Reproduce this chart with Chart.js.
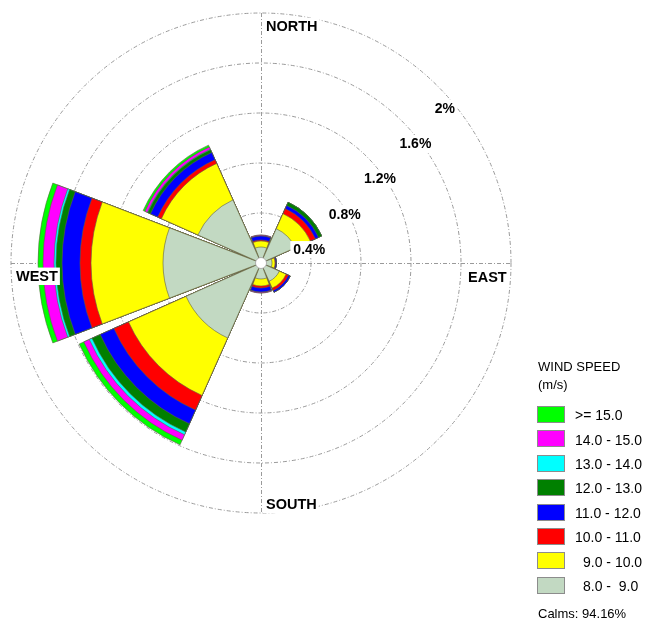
<!DOCTYPE html>
<html>
<head>
<meta charset="utf-8">
<script src="https://cdn.jsdelivr.net/npm/chart.js@4.4.1/dist/chart.umd.min.js"></script>
<style>
  html, body { margin: 0; padding: 0; background: #fff; }
  #wrap { position: relative; width: 646px; height: 621px; overflow: hidden; }
  #c { position: absolute; left: 0; top: 0; }
  .lg { position: absolute; font-family: "Liberation Sans", Arial, sans-serif; color: #000; white-space: pre; }
  .box { position: absolute; width: 28px; height: 17px; box-sizing: border-box; border: 1px solid #8c8c8c; }
</style>
</head>
<body>
<div id="wrap">
  <canvas id="c" width="646" height="621"></canvas>
  <div id="legend"></div>
</div>
<script>
// ---- data (percent of time) ----
const directions = ['N', 'NE', 'E', 'SE', 'S', 'SW', 'W', 'NW'];
const speedBins = ['8.0 -  9.0', '9.0 - 10.0', '10.0 - 11.0', '11.0 - 12.0', '12.0 - 13.0', '13.0 - 14.0', '14.0 - 15.0', '>= 15.0'];
const binColors = ['#c2d9c2', '#ffff00', '#ff0000', '#0000ff', '#008000', '#00ffff', '#ff00ff', '#00ff00'];
const v8to9   = [0.128, 0.300, 0.088, 0.160, 0.128, 0.656, 0.784, 0.552];
const v9to10  = [0.048, 0.132, 0.024, 0.060, 0.056, 0.504, 0.576, 0.320];
const v10to11 = [0.008, 0.044, 0.004, 0.020, 0.016, 0.128, 0.088, 0.032];
const v11to12 = [0.032, 0.028, 0.008, 0.016, 0.032, 0.120, 0.144, 0.064];
const v12to13 = [0.000, 0.028, 0.000, 0.000, 0.000, 0.072, 0.048, 0.024];
const v13to14 = [0.000, 0.000, 0.000, 0.000, 0.000, 0.024, 0.016, 0.004];
const v14to15 = [0.008, 0.000, 0.000, 0.000, 0.008, 0.048, 0.088, 0.020];
const v15up   = [0.000, 0.000, 0.000, 0.000, 0.000, 0.040, 0.040, 0.016];
const tickValues = [0.4, 0.8, 1.2, 1.6, 2.0];
const tickLabels = ['0.4%', '0.8%', '1.2%', '1.6%', '2%'];
const compassLabels = ['NORTH', 'EAST', 'SOUTH', 'WEST'];
const legendTitle = ['WIND SPEED', '(m/s)'];
const calmsText = 'Calms: 94.16%';

// ---- build stacked (cumulative) datasets; each direction followed by a gap slot ----
const bins = [v8to9, v9to10, v10to11, v11to12, v12to13, v13to14, v14to15, v15up];
const sectorAngle = 42, gapAngle = 3;
const labels = [];
directions.forEach(d => { labels.push(d); labels.push(''); });
const running = directions.map(() => 0);
const datasets = bins.map((vals, k) => {
  const data = [];
  vals.forEach((v, i) => { running[i] += v; data.push(+running[i].toFixed(4)); data.push(0); });
  return {
    label: speedBins[k],
    data: data,
    backgroundColor: binColors[k],
    borderColor: 'rgba(95,95,70,0.75)',
    borderWidth: ctx => (ctx.dataIndex % 2 ? 0 : 0.8),
    angle: ctx => (ctx.dataIndex % 2 ? gapAngle : sectorAngle)
  };
});

const FONT = '"Liberation Sans", Arial, sans-serif';
function textWithBackdrop(ctx, txt, x, baseline, size) {
  ctx.font = 'bold ' + size + 'px ' + FONT;
  const w = ctx.measureText(txt).width;
  const cap = size * 0.72;
  ctx.fillStyle = '#ffffff';
  ctx.fillRect(x - 3, baseline - cap - 3, w + 5, cap + 7);
  ctx.fillStyle = '#000000';
  ctx.textAlign = 'left';
  ctx.textBaseline = 'alphabetic';
  ctx.fillText(txt, x, baseline);
}

const roseDecor = {
  id: 'roseDecor',
  beforeDatasetsDraw(chart) {
    const s = chart.scales.r, ctx = chart.ctx;
    const cx = s.xCenter, cy = s.yCenter, R = s.drawingArea;
    ctx.save();
    ctx.strokeStyle = '#9a9a9a';
    ctx.lineWidth = 1;
    ctx.setLineDash([4, 2, 1, 2]);
    ctx.beginPath();
    ctx.moveTo(cx + 0.5, cy - R); ctx.lineTo(cx + 0.5, cy + R);
    ctx.moveTo(cx - R, cy + 0.5); ctx.lineTo(cx + R, cy + 0.5);
    ctx.stroke();
    ctx.restore();
  },
  afterDatasetsDraw(chart) {
    const s = chart.scales.r, ctx = chart.ctx;
    const cx = s.xCenter, cy = s.yCenter;
    ctx.save();
    // centre hole
    ctx.beginPath();
    ctx.arc(cx, cy, 5.5, 0, Math.PI * 2);
    ctx.fillStyle = '#ffffff';
    ctx.fill();
    ctx.strokeStyle = '#a0a0a0';
    ctx.lineWidth = 0.8;
    ctx.stroke();
    // ring labels along the NE diagonal
    tickValues.forEach((v, i) => {
      const r = s.getDistanceFromCenterForValue(v);
      const px = cx + r * Math.SQRT1_2, py = cy - r * Math.SQRT1_2;
      textWithBackdrop(ctx, tickLabels[i], px - 3, py + 26.5, 14);
    });
    // compass labels
    const R = s.drawingArea;
    textWithBackdrop(ctx, compassLabels[0], cx + 5, cy - R + 18, 14.5);
    textWithBackdrop(ctx, compassLabels[1], cx + 207, cy + 19, 14.5);
    textWithBackdrop(ctx, compassLabels[2], cx + 5, cy + R - 4, 14.5);
    textWithBackdrop(ctx, compassLabels[3], cx - 245, cy + 18, 14.5);
    ctx.restore();
  }
};

new Chart(document.getElementById('c'), {
  type: 'polarArea',
  data: { labels: labels, datasets: datasets },
  options: {
    responsive: false,
    animation: false,
    events: [],
    layout: { padding: { left: 11, top: 13, right: 135, bottom: 108 } },
    plugins: { legend: { display: false }, tooltip: { enabled: false } },
    scales: {
      r: {
        min: 0,
        max: 2,
        startAngle: -sectorAngle / 2,
        ticks: { display: false, stepSize: 0.4 },
        grid: { display: true, circular: true, color: '#9a9a9a', lineWidth: 1 },
        border: { dash: [4, 2, 1, 2] },
        angleLines: { display: false },
        pointLabels: { display: false }
      }
    }
  },
  plugins: [roseDecor]
});

// ---- HTML legend ----
const lg = document.getElementById('legend');
function addText(txt, left, top, size) {
  const d = document.createElement('div');
  d.className = 'lg';
  d.textContent = txt;
  d.style.left = left + 'px';
  d.style.top = top + 'px';
  d.style.fontSize = size + 'px';
  d.style.lineHeight = size + 'px';
  lg.appendChild(d);
}
addText(legendTitle[0], 538, 360, 13);
addText(legendTitle[1], 538, 378, 13);
for (let row = 0; row < speedBins.length; row++) {
  const k = speedBins.length - 1 - row;
  const top = 406 + row * 24.4;
  const b = document.createElement('div');
  b.className = 'box';
  b.style.left = '537px';
  b.style.top = top + 'px';
  b.style.background = binColors[k];
  lg.appendChild(b);
  const lbl = speedBins[k];
  const left = (k <= 1) ? 583 : 575;
  addText(lbl, left, top + 14 - 11.85, 14);
}
addText(calmsText, 538, 607, 13);
</script>
</body>
</html>
